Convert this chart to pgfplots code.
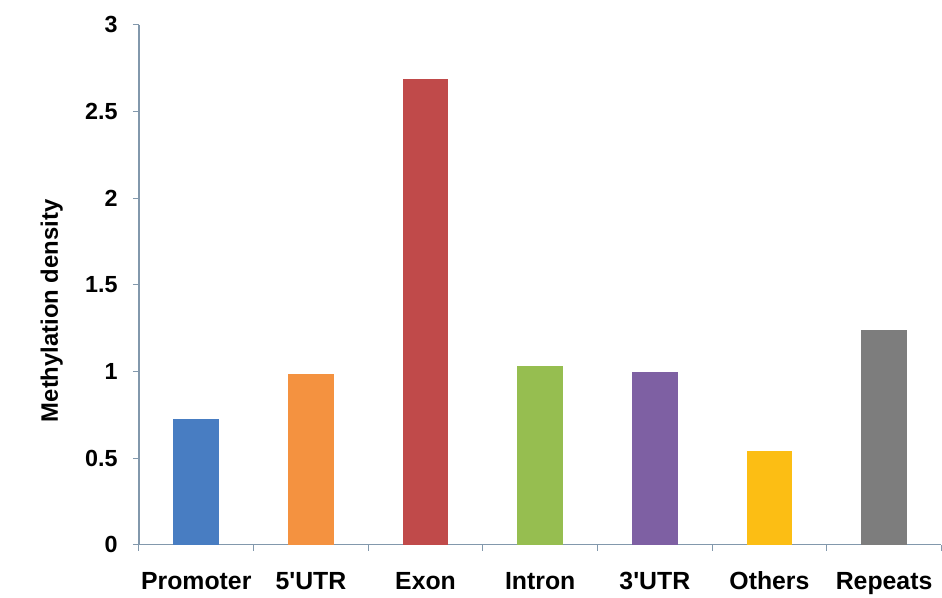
\documentclass[border=0pt]{standalone}
\usepackage{fontspec}
\setmainfont{Liberation Sans}
\usepackage{pgfplots}
\pgfplotsset{compat=1.18}

\definecolor{axisline}{RGB}{130,152,172}
\definecolor{cprom}{RGB}{72,125,194}
\definecolor{cfive}{RGB}{244,146,64}
\definecolor{cexon}{RGB}{192,74,74}
\definecolor{cintr}{RGB}{150,190,80}
\definecolor{cthree}{RGB}{126,96,163}
\definecolor{coth}{RGB}{252,190,20}
\definecolor{crep}{RGB}{125,125,125}

\begin{document}
\begin{tikzpicture}
\begin{axis}[
    scale only axis,
    width=808.5pt, height=524pt,
    xmin=-0.5, xmax=6.5,
    ymin=0, ymax=3,
    axis x line*=bottom,
    axis y line*=left,
    axis line style={axisline, line width=1.2pt},
    tick style={axisline, line width=1pt},
    tick align=outside,
    major tick length=6pt,
    ybar, bar width=0.4, bar shift=0pt,
    xtick={-0.5,0.5,...,6.5},
    x tick label as interval,
    xticklabels={Promoter,5\textquotesingle UTR,Exon,Intron,3\textquotesingle UTR,Others,Repeats},
    xticklabel style={font=\bfseries\fontsize{25}{25}\selectfont, text=black,
        anchor=north, text height=18pt, text depth=5pt, yshift=-17pt},
    ytick={0,0.5,1,1.5,2,2.5,3},
    yticklabels={0,0.5,1,1.5,2,2.5,3},
    yticklabel style={font=\bfseries\fontsize{23.5}{23.5}\selectfont, text=black,
        xshift=-12pt},
    ylabel={Methylation density},
    every axis y label/.style={at={(axis description cs:0,0.45)}, xshift=-88pt,
        rotate=90, anchor=center, font=\bfseries\fontsize{24}{24}\selectfont},
]
% Methylation density per region
\addplot[fill=cprom, draw=none] coordinates {(0,0.724)};
\addplot[fill=cfive, draw=none] coordinates {(1,0.986)};
\addplot[fill=cexon, draw=none] coordinates {(2,2.686)};
\addplot[fill=cintr, draw=none] coordinates {(3,1.030)};
\addplot[fill=cthree, draw=none] coordinates {(4,0.997)};
\addplot[fill=coth, draw=none] coordinates {(5,0.539)};
\addplot[fill=crep, draw=none] coordinates {(6,1.242)};
\end{axis}
\path[use as bounding box] (-140pt,-49pt) rectangle (802pt,549pt);
\end{tikzpicture}
\end{document}
